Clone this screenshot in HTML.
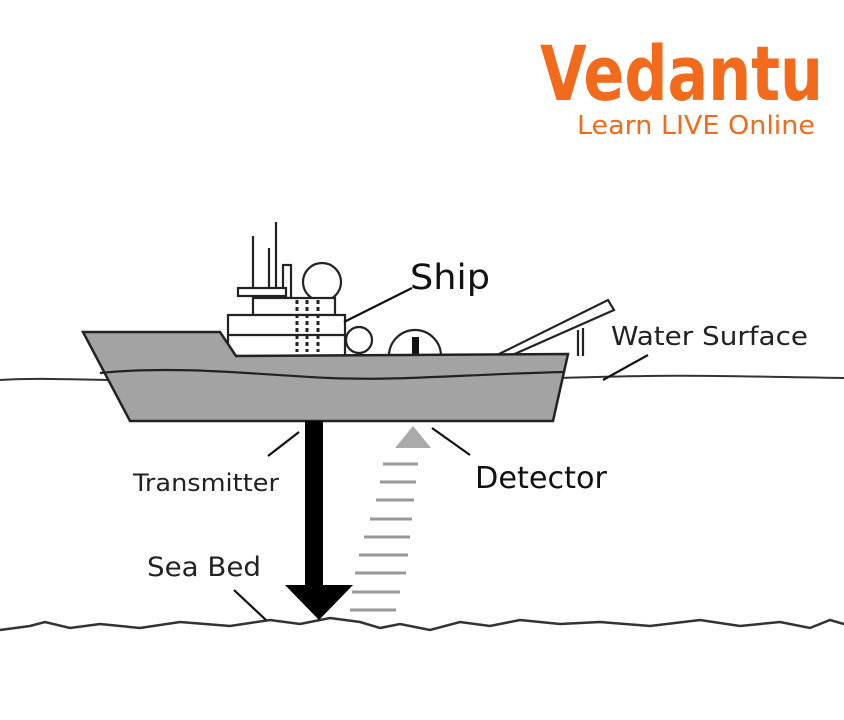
<!DOCTYPE html>
<html><head><meta charset="utf-8"><style>
html,body{margin:0;padding:0;background:#fff;}
svg{display:block;}
</style></head><body>
<svg width="844" height="720" viewBox="0 0 844 720" xmlns="http://www.w3.org/2000/svg" font-family="DejaVu Sans, Liberation Sans, sans-serif">
<rect width="844" height="720" fill="#fff"/>
<!-- logo -->
<text x="540" y="100" font-size="76" font-weight="bold" fill="#f26a1b" font-family="DejaVu Sans, sans-serif" textLength="283" lengthAdjust="spacingAndGlyphs">Vedantu</text>
<text x="577" y="134" font-size="26" fill="#f26a1b" textLength="238" lengthAdjust="spacingAndGlyphs">Learn LIVE Online</text>

<path d="M0 380 C60 376 120 384 200 378 S420 382 560 378 S700 376 844 378" fill="none" stroke="#333" stroke-width="2"/>
<path d="M0 630 L30 626 L45 622 L70 628 L100 624 L140 628 L180 622 L230 626 L270 620 L300 624 L330 618 L360 622 L380 628 L400 624 L430 630 L460 622 L490 626 L520 620 L560 624 L600 622 L650 626 L700 620 L740 626 L780 622 L810 628 L830 620 L844 624" fill="none" stroke="#333" stroke-width="2.5"/>

<g stroke="#222" stroke-width="2.2" fill="#fff">
<line x1="253" y1="236" x2="253" y2="298"/>
<line x1="276" y1="222" x2="276" y2="298"/>
<line x1="269" y1="248" x2="269" y2="298"/>
<rect x="283" y="265" width="8" height="33"/>
<circle cx="322" cy="282" r="19"/>
<rect x="253" y="298" width="82" height="17"/>
<rect x="238" y="288" width="48" height="8"/>
<rect x="228" y="315" width="117" height="41"/>
<line x1="228" y1="335" x2="345" y2="335"/>
<circle cx="359" cy="340" r="13"/>
<path d="M389 356 A26 26 0 0 1 441 356 Z"/>
<path d="M495 356 L608 300 L614 310 L510 356 Z"/>
<line x1="578" y1="330" x2="578" y2="356"/>
<line x1="583" y1="328" x2="583" y2="356"/>
</g>
<rect x="412" y="337" width="7" height="19" fill="#111"/>
<g stroke="#222" stroke-width="3" stroke-dasharray="4 3">
<line x1="297" y1="300" x2="297" y2="352"/>
<line x1="307" y1="300" x2="307" y2="352"/>
<line x1="318" y1="300" x2="318" y2="352"/>
</g>

<path d="M83 332 L220 332 L236 356 L568 354 L553 421 L130 421 Z" fill="#a3a3a3" stroke="#222" stroke-width="2.5"/>
<path d="M100 373 C180 365 260 375 330 378 S470 374 565 372" fill="none" stroke="#222" stroke-width="2.2"/>

<rect x="305" y="421" width="18" height="166" fill="#000"/>
<path d="M285 585 L353 585 L319 620 Z" fill="#000"/>

<path d="M395 448 L431 448 L413 426 Z" fill="#aaa"/>
<g stroke="#999" stroke-width="3">
<line x1="383" y1="464" x2="418" y2="464"/>
<line x1="380" y1="482" x2="416" y2="482"/>
<line x1="376" y1="500" x2="414" y2="500"/>
<line x1="370" y1="519" x2="412" y2="519"/>
<line x1="364" y1="537" x2="410" y2="537"/>
<line x1="359" y1="555" x2="408" y2="555"/>
<line x1="355" y1="573" x2="406" y2="573"/>
<line x1="352" y1="592" x2="400" y2="592"/>
<line x1="350" y1="610" x2="396" y2="610"/>
</g>

<g stroke="#111" stroke-width="2.2">
<line x1="412" y1="288" x2="344" y2="322"/>
<line x1="648" y1="355" x2="603" y2="380"/>
<line x1="299" y1="432" x2="268" y2="456"/>
<line x1="432" y1="428" x2="470" y2="455"/>
<line x1="234" y1="590" x2="266" y2="620"/>
</g>

<text x="410" y="289" font-size="35" fill="#111" textLength="80" lengthAdjust="spacingAndGlyphs">Ship</text>
<text x="611" y="345" font-size="26" fill="#222" textLength="197" lengthAdjust="spacingAndGlyphs">Water Surface</text>
<text x="133" y="491" font-size="24" fill="#222" textLength="146" lengthAdjust="spacingAndGlyphs">Transmitter</text>
<text x="475" y="488" font-size="30" fill="#111" textLength="132" lengthAdjust="spacingAndGlyphs">Detector</text>
<text x="147" y="576" font-size="27" fill="#222" textLength="114" lengthAdjust="spacingAndGlyphs">Sea Bed</text>
</svg>
</body></html>
